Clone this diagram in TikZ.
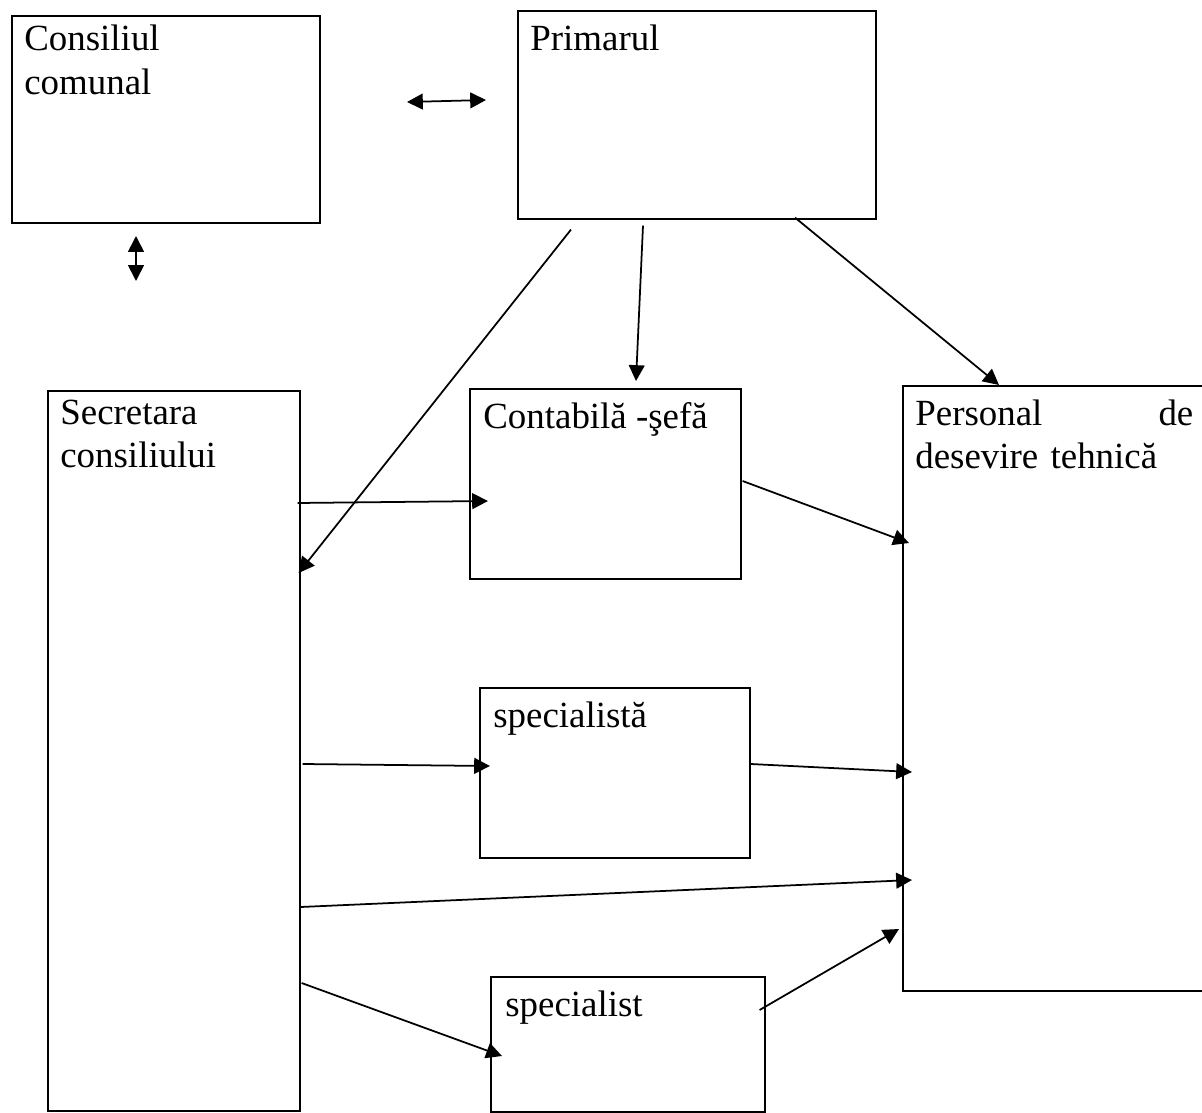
\documentclass[tikz,border=0pt]{standalone}
\usepackage{fontspec}
\setmainfont{Liberation Serif}
\usetikzlibrary{arrows.meta,calc}

\begin{document}
\begin{tikzpicture}[
            box/.style={draw,line width=0.9pt,anchor=north west,inner sep=0pt},
            boxtext/.style={anchor=north west,inner sep=0pt,align=left,
                font=\fontsize{21}{24.5}\selectfont,execute at begin node=\strut},
            link/.style={line width=1pt,-{Triangle[length=9pt,width=9pt]}},
            twoway/.style={line width=1pt,{Triangle[length=9pt,width=9pt]}-{Triangle[length=9pt,width=9pt]}}
        ]
            \useasboundingbox (0,0) rectangle (24.04,-22.26);
            \node[box,minimum width=6.16cm,minimum height=4.14cm] (consiliu) at (0.22,-0.30) {};
            \node[box,minimum width=7.16cm,minimum height=4.16cm] (primar) at (10.34,-0.20) {};
            \node[box,minimum width=5.04cm,minimum height=14.40cm] (secretara) at (0.94,-7.80) {};
            \node[box,minimum width=5.42cm,minimum height=3.80cm] (contabila) at (9.38,-7.76) {};
            \node[box,minimum width=5.40cm,minimum height=3.40cm] (specialista) at (9.58,-13.74) {};
            \node[box,minimum width=5.48cm,minimum height=2.70cm] (specialist) at (9.80,-19.52) {};
            \node[box,minimum width=6.40cm,minimum height=12.10cm] (personal) at (18.04,-7.70) {};

            \node[boxtext] (consiliutxt) at ($(consiliu.north west)+(0.26,-0.20)$) {Consiliul\\comunal};
            \node[boxtext] (primartxt) at ($(primar.north west)+(0.26,-0.20)$) {Primarul};
            \node[boxtext] (secretaratxt) at ($(secretara.north west)+(0.26,-0.20)$) {Secretara\\consiliului};
            \node[boxtext] (contabilatxt) at ($(contabila.north west)+(0.28,-0.20)$) {Contabilă -şefă};
            \node[boxtext] (specialistatxt) at ($(specialista.north west)+(0.28,-0.20)$) {specialistă};
            \node[boxtext] (specialisttxt) at ($(specialist.north west)+(0.30,-0.20)$) {specialist};
            \node[boxtext,text width=5.56cm] (personaltxt) at ($(personal.north west)+(0.26,-0.20)$)
                {Personal\hfill de\\desevire tehnică};

            \coordinate (cpleft) at (8.14,-2.04);
            \coordinate (cpright) at (9.72,-2.00);
            \coordinate (csup) at (2.72,-4.72);
            \coordinate (csjos) at (2.72,-5.62);
            \draw[twoway] (cpleft) -- (cpright);
            \draw[twoway] (csup) -- (csjos);

            \draw[link] ($(primar.south west)+(1.08,-0.20)$) -- ($(secretara.north east)+(-0.04,-3.66)$);
            \draw[link] ($(primar.south west)+(2.52,-0.12)$) -- ($(contabila.north west)+(3.34,0.14)$);
            \draw[link] ($(primar.south west)+(5.56,0.04)$) -- ($(personal.north west)+(1.94,0)$);
            \draw[link] ($(secretara.north east)+(-0.06,-2.26)$) -- ($(contabila.north west)+(0.38,-2.26)$);
            \draw[link] ($(contabila.north east)+(0.02,-1.86)$) -- ($(personal.north west)+(0.14,-3.16)$);
            \draw[link] ($(secretara.north east)+(0.04,-7.48)$) -- ($(specialista.north west)+(0.22,-1.58)$);
            \draw[link] ($(specialista.north east)+(0,-1.54)$) -- ($(personal.north west)+(0.20,-7.74)$);
            \draw[link] ($(secretara.north east)+(0,-10.34)$) -- ($(personal.north west)+(0.20,-9.90)$);
            \draw[link] ($(secretara.north east)+(0.02,-11.86)$) -- ($(specialist.north west)+(0.24,-1.60)$);
            \draw[link] ($(specialist.north east)+(-0.12,-0.68)$) -- ($(personal.north west)+(-0.06,-10.88)$);
        \end{tikzpicture}
\end{document}
